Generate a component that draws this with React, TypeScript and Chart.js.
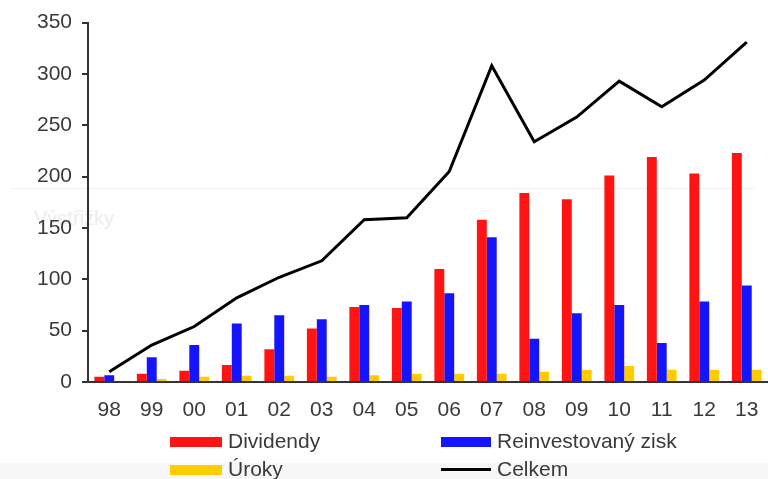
import React, { useEffect, useRef } from "react";
import { Chart, registerables } from "chart.js";

Chart.register(...registerables);

const categories = ["98", "99", "00", "01", "02", "03", "04", "05", "06", "07", "08", "09", "10", "11", "12", "13"];
const dividendy = [5, 8, 11, 16.5, 32, 52, 73, 72, 110, 158, 184, 178, 201, 219, 203, 223];
const reinvestovanyZisk = [6.5, 24, 36, 57, 65, 61, 75, 78.5, 86.5, 141, 42, 67, 75, 38, 78.5, 94];
const uroky = [0, 3, 5, 6, 6, 5, 6.5, 8, 8, 8, 10, 12, 15.5, 12, 12, 12];
const celkem = [10, 36, 54, 82, 102, 118, 158, 160, 205, 308, 234, 258, 293, 268, 294, 331];
const yMin = 0;
const yMax = 350;
const yStep = 50;

const seriesNames = ["Dividendy", "Reinvestovaný zisk", "Úroky", "Celkem"];
const seriesColors = ["#ff1414", "#1414ff", "#ffcc00", "#000000"];

const FONT = "'Liberation Sans', Arial, sans-serif";
const TEXT = "#3a3a3a";

export default function App() {
  const ref = useRef<HTMLCanvasElement | null>(null);

  useEffect(() => {
    document.body.style.margin = "0";
    const canvas = ref.current;
    if (!canvas) return;
    const chart = new Chart(canvas, {
      type: "bar",
      data: {
        labels: categories,
        datasets: [
          {
            type: "line",
            label: seriesNames[3],
            data: celkem,
            borderColor: seriesColors[3],
            borderWidth: 3,
            pointRadius: 0,
            tension: 0,
            fill: false,
            order: 0,
          } as any,
          {
            label: seriesNames[0],
            data: dividendy,
            backgroundColor: seriesColors[0],
            order: 1,
          },
          {
            label: seriesNames[1],
            data: reinvestovanyZisk,
            backgroundColor: seriesColors[1],
            order: 1,
          },
          {
            label: seriesNames[2],
            data: uroky,
            backgroundColor: seriesColors[2],
            order: 1,
          },
        ],
      },
      options: {
        responsive: false,
        maintainAspectRatio: false,
        animation: false,
        layout: { padding: { top: 22, right: 0, left: 0, bottom: 0 } },
        datasets: {
          bar: { categoryPercentage: 0.7, barPercentage: 1.0 },
        },
        plugins: {
          legend: { display: false },
          tooltip: { enabled: false },
        },
        scales: {
          x: {
            grid: { display: false },
            border: { display: true, color: "#333", width: 2 },
            ticks: {
              color: TEXT,
              font: { family: FONT, size: 21 },
              padding: 8,
              maxRotation: 0,
              autoSkip: false,
            },
            afterFit: (s: any) => {
              s.height = 48;
            },
          },
          y: {
            min: yMin,
            max: yMax,
            grid: {
              display: true,
              drawOnChartArea: false,
              drawTicks: true,
              tickLength: 6,
              color: "#333",
              lineWidth: 2,
            },
            border: { display: true, color: "#333", width: 2 },
            ticks: {
              stepSize: yStep,
              color: TEXT,
              font: { family: FONT, size: 21 },
              padding: 10,
            },
            afterFit: (s: any) => {
              s.width = 88;
            },
          },
        },
      },
    });
    return () => chart.destroy();
  }, []);

  const legendText: React.CSSProperties = {
    position: "absolute",
    fontFamily: FONT,
    fontSize: 21,
    color: TEXT,
    lineHeight: "24px",
    whiteSpace: "nowrap",
  };

  return (
    <div style={{ position: "relative", width: 768, height: 479, overflow: "hidden", background: "#fff" }}>
      <div style={{ position: "absolute", left: 10, top: 188, width: 745, height: 1, background: "#f0f0f0" }} />
      <div style={{ position: "absolute", left: 0, top: 463, width: 768, height: 16, background: "#f7f7f7" }} />
      <span style={{ ...legendText, left: 34, top: 206, color: "#ececf0", fontSize: 20 }}>Výstřižky</span>
      <canvas ref={ref} width={768} height={430} style={{ position: "absolute", left: 0, top: 0 }} />
      <div style={{ position: "absolute", left: 170, top: 437, width: 52, height: 10, background: seriesColors[0] }} />
      <span style={{ ...legendText, left: 228, top: 429 }}>{seriesNames[0]}</span>
      <div style={{ position: "absolute", left: 441, top: 437, width: 50, height: 10, background: seriesColors[1] }} />
      <span style={{ ...legendText, left: 497, top: 429 }}>{seriesNames[1]}</span>
      <div style={{ position: "absolute", left: 170, top: 465, width: 52, height: 10, background: seriesColors[2] }} />
      <span style={{ ...legendText, left: 228, top: 457 }}>{seriesNames[2]}</span>
      <div style={{ position: "absolute", left: 441, top: 468, width: 50, height: 3, background: seriesColors[3] }} />
      <span style={{ ...legendText, left: 497, top: 457 }}>{seriesNames[3]}</span>
    </div>
  );
}
